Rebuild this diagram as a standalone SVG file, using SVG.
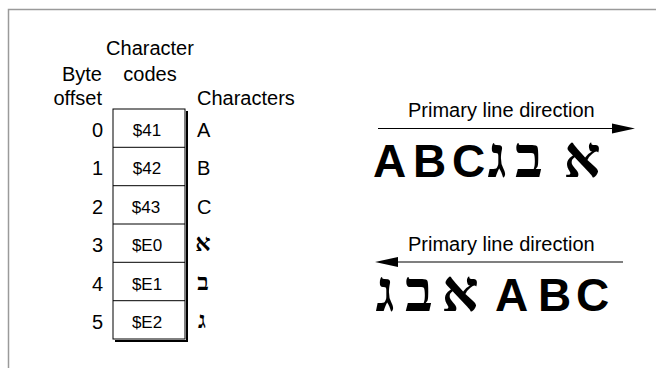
<svg xmlns="http://www.w3.org/2000/svg" width="656" height="368" viewBox="0 0 656 368">
<style>
.lbl{font-family:"Liberation Sans",Arial,sans-serif;font-size:20px;fill:#000}
.hex{font-family:"Liberation Sans",Arial,sans-serif;font-size:17px;fill:#000;text-anchor:middle}
.num{text-anchor:end}
.big{font-family:"Liberation Sans",Arial,"DejaVu Sans",sans-serif;font-size:46px;font-weight:bold;fill:#000}
.heb{font-family:"Liberation Serif","DejaVu Serif",serif;font-weight:bold;text-anchor:middle;fill:#000}
.hs{font-size:24px}
.hb{font-size:58px}
.cell{fill:#fff;stroke:#000;stroke-width:1}
.ln{stroke:#000;stroke-width:1.2;fill:none}
</style>
<rect width="656" height="368" fill="#fff"/>
<path d="M8.5 368 V9.5 H656" fill="none" stroke="#9a9a9a" stroke-width="1.5"/>
<g id="headers">
<text class="lbl" x="150" y="55" text-anchor="middle">Character</text>
<text class="lbl" x="150" y="81" text-anchor="middle">codes</text>
<text class="lbl" x="102" y="81" text-anchor="end">Byte</text>
<text class="lbl" x="102" y="105" text-anchor="end">offset</text>
<text class="lbl" x="197" y="105">Characters</text>
</g>
<g id="table">
<path d="M187 111 V341 H115" fill="none" stroke="#000" stroke-width="2"/>
<rect class="cell" x="113" y="109" width="72" height="230"/>
<path d="M113 147.3 H185 M113 185.7 H185 M113 224 H185 M113 262.3 H185 M113 300.7 H185" stroke="#000" stroke-width="1"/>
</g>
<g id="row0"><text class="lbl num" x="103" y="137">0</text><text class="hex" x="147" y="136">$41</text><text class="lbl" x="197" y="137">A</text></g>
<g id="row1"><text class="lbl num" x="103" y="175">1</text><text class="hex" x="147" y="174">$42</text><text class="lbl" x="197" y="175">B</text></g>
<g id="row2"><text class="lbl num" x="103" y="214">2</text><text class="hex" x="146" y="213">$43</text><text class="lbl" x="197" y="214">C</text></g>
<g id="row3"><text class="lbl num" x="103" y="252">3</text><text class="hex" x="147" y="251">$E0</text><text class="heb hs" x="203" y="251">א</text></g>
<g id="row4"><text class="lbl num" x="103" y="291">4</text><text class="hex" x="147" y="290">$E1</text><text class="heb hs" x="203" y="290">ב</text></g>
<g id="row5"><text class="lbl num" x="103" y="329">5</text><text class="hex" x="147" y="328">$E2</text><text class="heb hs" x="202" y="328">ג</text></g>
<g id="ltr">
<text class="lbl" x="408" y="117">Primary line direction</text>
<text class="big" y="177"><tspan x="373">A</tspan><tspan x="413">B</tspan><tspan x="452">C</tspan></text>
<text class="heb hb" x="497" y="177">ג</text>
<text class="heb hb" x="529" y="177">ב</text>
<text class="heb hb" x="582" y="177">א</text>
</g>
<g id="rtl">
<text class="lbl" x="408" y="251">Primary line direction</text>
<text class="heb hb" x="385" y="311">ג</text>
<text class="heb hb" x="419" y="311">ב</text>
<text class="heb hb" x="460" y="311">א</text>
<text class="big" y="311"><tspan x="495">A</tspan><tspan x="538">B</tspan><tspan x="576">C</tspan></text>
</g>
<g id="connectors">
<path class="ln" d="M378 128.5 H614"/>
<polygon points="635,128.5 612,123.5 612,133.5" fill="#000"/>
<path class="ln" d="M623 262 H396"/>
<polygon points="375,262 398,257 398,267" fill="#000"/>
</g>
</svg>
